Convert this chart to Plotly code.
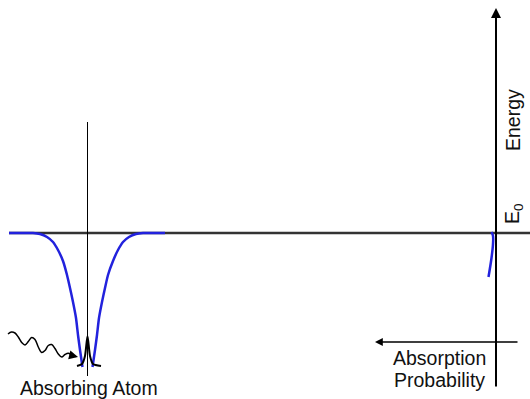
import plotly.graph_objects as go

# Potential well (blue) around the absorbing atom: left and right arms
well_left_x = [9, 33, 40, 47, 53, 58, 63, 67, 70, 73, 76, 78, 80, 82.5]
well_left_y = [233, 233, 234, 237, 242, 250, 261, 275, 288, 302, 318, 335, 350, 367]
well_right_x = [92.5, 95, 97, 99, 102, 105, 108, 113, 118, 123, 129, 136, 143, 165]
well_right_y = [367, 350, 335, 318, 302, 288, 275, 261, 250, 242, 237, 234, 233, 233]

# Absorption probability curve near E0 (blue, right)
prob_x = [491.5, 493, 493, 491.5, 488.5]
prob_y = [232, 236, 244, 258, 277]

# Core level line shape (black peak)
peak_x = [77, 82, 85, 87.5, 90, 93, 101]
peak_y = [366, 364, 356, 336, 356, 364, 366]

# Incoming photon (wavy line)
wave_x = [8, 11.5, 15, 18.3, 21.7, 25, 28.3, 31.7, 35, 38.3, 41.7, 45, 48.3,
          51.7, 55, 58.3, 61.7, 65, 68.3, 71.7, 74]
wave_y = [334, 332, 333, 337, 342.5, 345, 341.5, 337.5, 339.5, 347, 352.5,
          350.5, 345.5, 344.5, 348.5, 354, 357, 354.5, 353.3, 355, 356]

# Reference lines
e0_x = [9, 530]
e0_y = [233, 233]
atom_x = [87.5, 87.5]
atom_y = [122, 376]

fig = go.Figure()
fig.add_trace(go.Scatter(x=e0_x, y=e0_y, mode="lines",
                         line=dict(color="#333333", width=2.5)))
fig.add_trace(go.Scatter(x=atom_x, y=atom_y, mode="lines",
                         line=dict(color="black", width=1)))
for wx, wy in [(well_left_x, well_left_y), (well_right_x, well_right_y)]:
    fig.add_trace(go.Scatter(x=wx, y=wy, mode="lines",
                             line=dict(color="#2222dd", width=2.5, shape="spline", smoothing=0.6)))
fig.add_trace(go.Scatter(x=peak_x, y=peak_y, mode="lines",
                         line=dict(color="black", width=2, shape="spline", smoothing=0.6)))
fig.add_trace(go.Scatter(x=wave_x, y=wave_y, mode="lines",
                         line=dict(color="black", width=1.5, shape="spline", smoothing=1)))
fig.add_trace(go.Scatter(x=prob_x, y=prob_y, mode="lines",
                         line=dict(color="#2222dd", width=2.5, shape="spline")))

annos = [
    # energy axis (up arrow)
    dict(x=496, y=8, ax=496, ay=388, showarrow=True, arrowhead=2, arrowsize=1,
         arrowwidth=2, arrowcolor="black"),
    # absorption probability axis (left arrow)
    dict(x=375, y=342, ax=519, ay=342, showarrow=True, arrowhead=2, arrowsize=1.2,
         arrowwidth=1.3, arrowcolor="black"),
    # photon arrowhead
    dict(x=78, y=357, ax=72, ay=355.5, showarrow=True, arrowhead=2, arrowsize=1.2,
         arrowwidth=1.5, arrowcolor="black"),
]
for a in annos:
    a.update(xref="x", yref="y", axref="x", ayref="y", text="")

font = dict(family="Liberation Sans, Arial, sans-serif", size=19.5, color="#111111")
texts = [
    dict(x=89, y=388, text="Absorbing Atom", textangle=0),
    dict(x=439, y=358, text="Absorption", textangle=0),
    dict(x=439, y=380, text="Probability", textangle=0),
    dict(x=513, y=120, text="Energy", textangle=-90),
    dict(x=513, y=214, text="E<sub>0</sub>", textangle=-90),
]
for t in texts:
    t.update(xref="x", yref="y", showarrow=False, font=font,
             xanchor="center", yanchor="middle")

fig.update_layout(
    width=530, height=399,
    margin=dict(l=0, r=0, t=0, b=0),
    paper_bgcolor="white", plot_bgcolor="white",
    showlegend=False,
    xaxis=dict(range=[0, 530], visible=False, fixedrange=True),
    yaxis=dict(range=[399, 0], visible=False, fixedrange=True),
    annotations=annos + texts,
)
fig.write_html("out.html")
